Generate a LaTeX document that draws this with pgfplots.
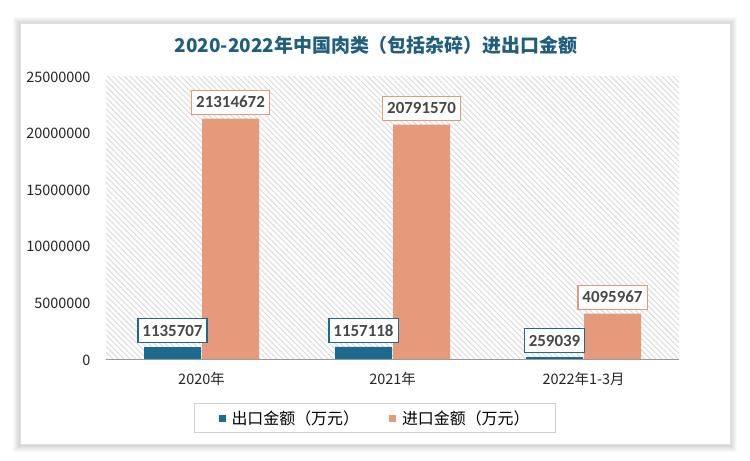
\documentclass[border=0pt]{standalone}
\usepackage{fontspec}
\setmainfont{Noto Sans CJK SC}
\newfontfamily\lab{Carlito}
\usepackage{pgfplots}
\pgfplotsset{compat=1.18}
\usepackage{pgfplotstable}
\usetikzlibrary{patterns.meta}
\definecolor{expc}{HTML}{1C6B8E}
\definecolor{impc}{HTML}{E59B7B}
\definecolor{titc}{HTML}{1F5E7D}
\definecolor{labc}{HTML}{474747}

\pgfplotstableread{
x y lab
0 1135707 1135707
1 1157118 1157118
2 259039 259039
}\exportdata
\pgfplotstableread{
x y lab
0 21314672 21314672
1 20791570 20791570
2 4095967 4095967
}\importdata

\begin{document}
\begin{tikzpicture}[x=1bp,y=1bp]
\fill[white] (0,0) rectangle (750,461);
% card shadow
\foreach \i in {1,...,7}{
  \fill[black,opacity=0.025] (20-\i,17-\i-1) rectangle (730+\i,438+\i-1);
}
\fill[white] (20,17) rectangle (730,438);
\draw[black!12,line width=0.6bp] (20,17) rectangle (730,438);
\node[font=\fontsize{19}{22}\selectfont\bfseries,text=titc] at (376,416) {2020-2022年中国肉类（包括杂碎）进出口金额};
\begin{axis}[
  at={(106bp,101bp)}, anchor=south west,
  scale only axis, width=573bp, height=283bp,
  xmin=-0.5, xmax=2.5, ymin=0, ymax=25000000,
  scaled y ticks=false,
  ybar=1bp, bar width=57bp,
  axis line style={draw=none},
  axis background/.style={pattern={Lines[angle=-45,distance=4bp,line width=0.9bp]}, pattern color=black!15},
  xtick={0,1,2}, xticklabels={2020年,2021年,2022年1-3月},
  ytick={0,5000000,10000000,15000000,20000000,25000000},
  yticklabels={0,5000000,10000000,15000000,20000000,25000000},
  major tick length=0pt,
  ticklabel style={font=\fontsize{14.5}{16}\selectfont, text=black!85},
  yticklabel style={xshift=-12bp},
  xticklabel style={yshift=-9bp},
  point meta=explicit symbolic,
  nodes near coords,
  every node near coord/.append style={font=\lab\bfseries\fontsize{17}{19}\selectfont, text=labc, fill=white, line width=1.1bp, inner xsep=4.5bp, inner ysep=4bp, minimum height=24bp, anchor=south, yshift=4bp},
  legend style={at={(axis description cs:0.4695,-0.152)}, anchor=north, legend columns=2, draw=black!18, line width=1bp, font=\fontsize{16}{18}\selectfont, inner xsep=24bp, inner ysep=5bp, /tikz/every even column/.append style={column sep=28bp}, /tikz/every odd column/.append style={column sep=4bp}},
  legend image code/.code={\fill[#1] (0bp,-3.5bp) rectangle (7bp,3.5bp);},
]
\addplot[fill=expc, draw=none, every node near coord/.append style={draw=expc}] table[x=x,y=y,meta=lab] {\exportdata};
\addplot[fill=impc, draw=none, every node near coord/.append style={draw=impc}] table[x=x,y=y,meta=lab] {\importdata};
\legend{出口金额（万元）,进口金额（万元）}
\draw[black!40,line width=1.5bp] (rel axis cs:0,0) -- (rel axis cs:1,0);
\end{axis}
\end{tikzpicture}
\end{document}
